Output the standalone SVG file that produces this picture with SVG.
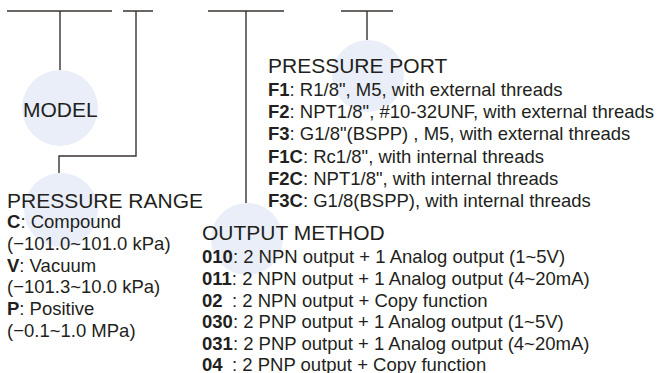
<svg xmlns="http://www.w3.org/2000/svg" width="659" height="373" viewBox="0 0 659 373">
<style>
.bg{fill:#ffffff}
.dot{fill:#e9eef8}
.ln{stroke:#3a3231;stroke-width:1.4;fill:none}
text{font-family:"Liberation Sans",Arial,sans-serif;fill:#231f20}
.h{font-size:21px}
.b{font-size:18.5px}
.k{font-weight:bold}
</style>
<rect class="bg" x="0" y="0" width="659" height="373"/>
<g id="connectors">
<path class="ln" d="M7 11H112M60 11V71"/>
<path class="ln" d="M123 11H153M136 11V156H59V173"/>
<path class="ln" d="M208 11H284M246 11V203"/>
<path class="ln" d="M341 11H393M367 11V40"/>
</g>
<g id="model">
<circle class="dot" cx="60" cy="108" r="38"/>
<text class="h" x="23" y="117">MODEL</text>
</g>
<g id="pressure-port">
<circle class="dot" cx="368" cy="76" r="36"/>
<text class="h" x="268" y="73">PRESSURE PORT</text>
<text class="b" x="268" y="96"><tspan class="k">F1</tspan>: R1/8", M5, with external threads</text>
<text class="b" x="268" y="118"><tspan class="k">F2</tspan>: NPT1/8", #10-32UNF, with external threads</text>
<text class="b" x="268" y="140"><tspan class="k">F3</tspan>: G1/8"(BSPP) , M5, with external threads</text>
<text class="b" x="268" y="163"><tspan class="k">F1C</tspan>: Rc1/8", with internal threads</text>
<text class="b" x="268" y="185"><tspan class="k">F2C</tspan>: NPT1/8", with internal threads</text>
<text class="b" x="268" y="207"><tspan class="k">F3C</tspan>: G1/8(BSPP), with internal threads</text>
</g>
<g id="pressure-range">
<circle class="dot" cx="61" cy="210" r="37"/>
<text class="h" x="7" y="208">PRESSURE RANGE</text>
<text class="b" x="7" y="228"><tspan class="k">C</tspan>: Compound</text>
<text class="b" x="7" y="250">(−101.0~101.0 kPa)</text>
<text class="b" x="7" y="272"><tspan class="k">V</tspan>: Vacuum</text>
<text class="b" x="7" y="293">(−101.3~10.0 kPa)</text>
<text class="b" x="7" y="315"><tspan class="k">P</tspan>: Positive</text>
<text class="b" x="7" y="337">(−0.1~1.0 MPa)</text>
</g>
<g id="output-method">
<circle class="dot" cx="247" cy="239" r="36"/>
<text class="h" x="202" y="240">OUTPUT METHOD</text>
<text class="b" x="202" y="263"><tspan class="k">010</tspan>: 2 NPN output + 1 Analog output (1~5V)</text>
<text class="b" x="202" y="285"><tspan class="k">011</tspan>: 2 NPN output + 1 Analog output (4~20mA)</text>
<text class="b" x="202" y="307"><tspan class="k">02</tspan><tspan x="232">: 2 NPN output + Copy function</tspan></text>
<text class="b" x="202" y="328"><tspan class="k">030</tspan>: 2 PNP output + 1 Analog output (1~5V)</text>
<text class="b" x="202" y="350"><tspan class="k">031</tspan>: 2 PNP output + 1 Analog output (4~20mA)</text>
<text class="b" x="202" y="371"><tspan class="k">04</tspan><tspan x="232">: 2 PNP output + Copy function</tspan></text>
</g>
</svg>
